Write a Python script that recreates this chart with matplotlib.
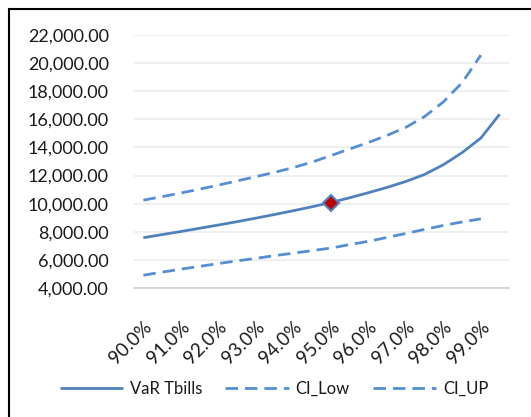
import matplotlib
matplotlib.use("Agg")
import matplotlib.pyplot as plt
from matplotlib.lines import Line2D

plt.rcParams['font.family'] = ['Lato', 'DejaVu Sans']

# confidence levels (every 0.5%), labels shown on every whole percent
levels = ["90.0%", "90.5%", "91.0%", "91.5%", "92.0%", "92.5%", "93.0%", "93.5%",
          "94.0%", "94.5%", "95.0%", "95.5%", "96.0%", "96.5%", "97.0%", "97.5%",
          "98.0%", "98.5%", "99.0%", "99.5%"]

var_tbills = [7580, 7800, 8020, 8250, 8480, 8720, 8970, 9230, 9500, 9780,
              10080, 10420, 10780, 11160, 11580, 12080, 12770, 13630, 14670, 16360]
ci_low = [4910, 5130, 5340, 5540, 5740, 5930, 6110, 6300, 6480, 6660,
          6840, 7090, 7320, 7600, 7880, 8170, 8450, 8700, 8920]
ci_up = [10250, 10500, 10760, 11030, 11320, 11620, 11920, 12230, 12570, 12960,
         13420, 13890, 14350, 14860, 15430, 16200, 17240, 18610, 20570]

highlight = "95.0%"

solid_color = "#4f81bd"
dash_color = "#558ed5"
text_color = "#1a1a1a"

fig = plt.figure(figsize=(5.31, 4.17), dpi=100)
ax = fig.add_axes([134 / 531, 1 - 288 / 417, 375 / 531, 253 / 417])

x = list(range(len(levels)))
ax.plot(x, var_tbills, color=solid_color, lw=2.0, label="VaR Tbills",
        solid_capstyle="butt")
ax.plot(x[:len(ci_low)], ci_low, color=dash_color, lw=2.0,
        linestyle=(0, (4.5, 2.5)), label="CI_Low")
ax.plot(x[:len(ci_up)], ci_up, color=dash_color, lw=2.0,
        linestyle=(0, (4.5, 2.5)), label="CI_UP")

# mark the 95% level
k = levels.index(highlight)
ax.plot([x[k]], [var_tbills[k]], marker="D", markersize=8,
        markerfacecolor="#c00000", markeredgecolor=solid_color,
        markeredgewidth=1.5, linestyle="none", zorder=5)

ax.set_xlim(-0.5, len(levels) - 0.5)
ax.set_ylim(4000, 22000)
ax.set_yticks(range(4000, 22001, 2000))
ax.set_yticklabels([f"{v:,.2f}" for v in range(4000, 22001, 2000)])
ax.set_xticks(x[::2])
ax.set_xticklabels(levels[::2], rotation=45, ha="right", va="top",
                   rotation_mode="anchor")

ax.tick_params(axis="both", length=0, labelcolor=text_color)
ax.tick_params(axis="y", pad=18, labelsize=13)
ax.tick_params(axis="x", pad=22, labelsize=13.5)

ax.grid(axis="y", color="#ececec", lw=1.2)
ax.set_axisbelow(True)
for side in ["left", "right", "top"]:
    ax.spines[side].set_visible(False)
ax.spines["bottom"].set_color("#d0d0d0")
ax.spines["bottom"].set_linewidth(1.2)

fig.legend(loc="center", bbox_to_anchor=(274 / 531, 1 - 389 / 417), ncol=3,
           frameon=False, fontsize=12, handlelength=3.8, handletextpad=0.4,
           columnspacing=1.4, labelcolor=text_color)

# chart frame
fig.add_artist(Line2D([8.5 / 531, 1.0], [1 - 8.5 / 417, 1 - 8.5 / 417],
                      color="black", lw=1.5, transform=fig.transFigure))
fig.add_artist(Line2D([8.5 / 531, 8.5 / 531], [0.0, 1 - 8.5 / 417],
                      color="black", lw=1.5, transform=fig.transFigure))

fig.savefig("out.png", dpi=100)
